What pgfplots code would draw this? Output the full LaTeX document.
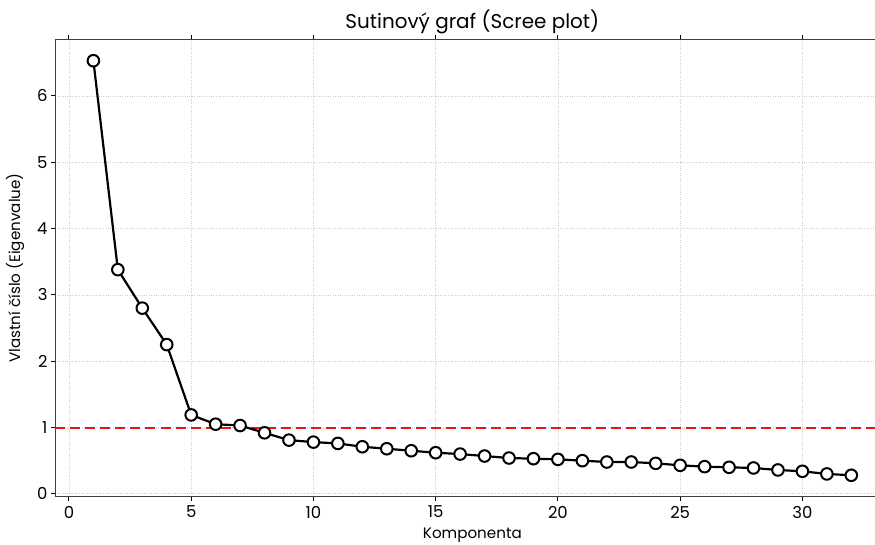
\documentclass[border=0pt]{standalone}
\usepackage{fontspec}
\setmainfont{Poppins}
\usepackage{pgfplots}
\pgfplotsset{compat=1.18}
\definecolor{refred}{RGB}{235,20,20}
\begin{document}
\begin{tikzpicture}
\path[use as bounding box] (-55.5bp,-48.8bp) rectangle (819.5bp,496bp);
\begin{axis}[
  at={(0,0)}, anchor=south west,
  scale only axis, width=833.7bp, height=456bp,
  xmin=-0.55, xmax=33.55, ymin=-0.0325, ymax=6.8425,
  xtick={0,5,...,30}, ytick={0,1,...,6},
  tick align=outside, major tick length=4.5bp,
  tick style={black, line width=1pt},
  axis line style={black!75, line width=1pt},
  grid=major,
  major grid style={gray!40, dotted, line width=0.7pt},
  /pgf/number format/assume math mode=true,
  tick label style={font=\fontsize{16.5}{19}\selectfont},
  xticklabel style={yshift=-2bp},
  title={Sutinový graf (Scree plot)},
  title style={font=\fontsize{20}{24}\selectfont, yshift=-3bp},
  xlabel={Komponenta},
  ylabel={Vlastní číslo (Eigenvalue)},
  label style={font=\fontsize{15.2}{18}\selectfont},
  xlabel style={yshift=-3bp},
  ylabel style={yshift=6bp},
  clip=false,
]
\addplot[color=refred, draw=refred, line width=2pt, dash pattern=on 10bp off 5bp, forget plot] coordinates {(-0.55,1) (33.55,1)};
\addplot[color=black, line width=2.2pt, mark=*, mark size=5.8bp, mark options={fill=white, draw=black, line width=2pt, solid}] coordinates {
(1,6.53) (2,3.38) (3,2.80) (4,2.25) (5,1.19) (6,1.05) (7,1.03) (8,0.92)
(9,0.81) (10,0.78) (11,0.76) (12,0.71) (13,0.68) (14,0.65) (15,0.62) (16,0.60)
(17,0.57) (18,0.54) (19,0.53) (20,0.52) (21,0.50) (22,0.48) (23,0.48) (24,0.46)
(25,0.43) (26,0.41) (27,0.40) (28,0.39) (29,0.36) (30,0.34) (31,0.30) (32,0.28)
};
\end{axis}
\end{tikzpicture}
\end{document}
